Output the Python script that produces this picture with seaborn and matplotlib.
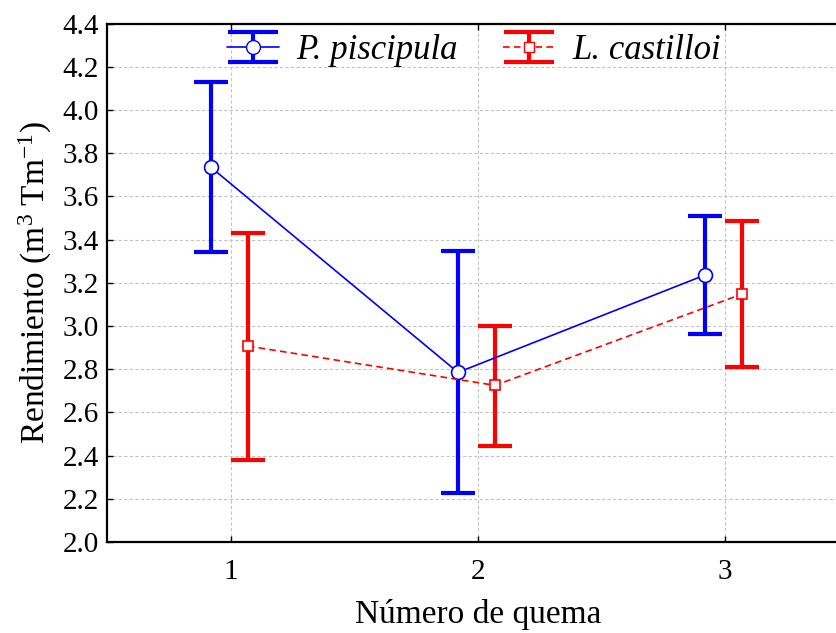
import numpy as np
import pandas as pd
import matplotlib
matplotlib.use('Agg')
import matplotlib.pyplot as plt
import seaborn as sns
from matplotlib.container import ErrorbarContainer
from matplotlib.legend_handler import HandlerTuple, HandlerErrorbar

# Data (means and interval limits)
quema = [1, 2, 3]
especies = ['P. piscipula', 'L. castilloi']
piscipula_media = [3.735, 2.785, 3.236]
piscipula_lo = [3.341, 2.226, 2.961]
piscipula_hi = [4.131, 3.346, 3.510]
castilloi_media = [2.907, 2.725, 3.148]
castilloi_lo = [2.381, 2.445, 2.808]
castilloi_hi = [3.428, 2.998, 3.485]

df = pd.DataFrame({
    'quema': quema * 2,
    'especie': [especies[0]] * 3 + [especies[1]] * 3,
    'media': piscipula_media + castilloi_media,
    'lo': piscipula_lo + castilloi_lo,
    'hi': piscipula_hi + castilloi_hi,
})
offset = {especies[0]: -0.08, especies[1]: 0.07}
df['pos'] = df['quema'] + df['especie'].map(offset)

sns.set_style('ticks')
plt.rcParams['font.family'] = ['Liberation Serif', 'DejaVu Serif']
plt.rcParams['mathtext.fontset'] = 'custom'
plt.rcParams['mathtext.rm'] = 'Liberation Serif'
plt.rcParams['mathtext.it'] = 'Liberation Serif:italic'
plt.rcParams['text.color'] = 'black'
plt.rcParams['axes.labelcolor'] = 'black'
plt.rcParams['xtick.color'] = 'black'
plt.rcParams['ytick.color'] = 'black'
plt.rcParams['axes.edgecolor'] = 'black'

colors = {especies[0]: '#0000ff', especies[1]: '#ff0000'}
markers = {especies[0]: 'o', especies[1]: 's'}
dashes = {especies[0]: '', especies[1]: (4, 2.5)}

fig = plt.figure(figsize=(8.36, 6.33), dpi=100)
ax = fig.add_axes([107 / 836, 91 / 633, 741.5 / 836, 518.5 / 633])

for esp in especies:
    sub = df[df['especie'] == esp]
    ax.errorbar(sub['pos'], sub['media'],
                yerr=[sub['media'] - sub['lo'], sub['hi'] - sub['media']],
                fmt='none', ecolor=colors[esp], elinewidth=3,
                capsize=12, capthick=3, zorder=3)

sns.lineplot(data=df, x='pos', y='media', hue='especie', style='especie',
             palette=colors, markers=markers, dashes=dashes, ax=ax,
             linewidth=1.2, markersize=10, markerfacecolor='white',
             markeredgewidth=1.2, legend=False, zorder=4, sort=False,
             estimator=None)
for line, esp in zip(ax.get_lines()[-2:], especies):
    line.set_markeredgecolor(colors[esp])
    if esp == especies[1]:
        line.set_markersize(7)

ax.set_xlim(0.5, 3.5)
ax.set_ylim(2.0, 4.4)
ax.set_xticks(quema)
ax.set_xticklabels([str(q) for q in quema])
yt = np.arange(2.0, 4.41, 0.2)
ax.set_yticks(yt)
ax.set_yticklabels([f'{v:.1f}' for v in yt])
ax.tick_params(axis='both', direction='in', labelsize=21, length=4,
               width=1, top=True, right=False, pad=6)
ax.tick_params(axis='x', pad=12)
for s in ax.spines.values():
    s.set_linewidth(1.6)
ax.grid(True, color='#c4c4c4', linestyle=(0, (3, 2)), linewidth=0.8)

ax.set_xlabel('Número de quema', fontsize=24, labelpad=10)
ax.set_ylabel(r'Rendimiento (m$^{3}$ Tm$^{\mathrm{-1}}$)', fontsize=24, labelpad=6)

# legend proxies: wide caps like the original key
leg_handles = []
for esp in especies:
    eb = ax.errorbar([np.nan], [np.nan], yerr=[[0], [0]], fmt='none',
                     ecolor=colors[esp], elinewidth=3, capsize=18, capthick=3)
    ln = plt.Line2D([], [], color=colors[esp], marker=markers[esp],
                    markerfacecolor='white', markeredgecolor=colors[esp],
                    markersize=10 if esp == especies[0] else 7,
                    linestyle='-' if esp == especies[0] else (0, (4, 2.5)),
                    linewidth=1.2)
    leg_handles.append((eb, ln))
ax.legend(leg_handles, especies, loc='upper center',
          bbox_to_anchor=(0.495, 1.04), ncol=2, frameon=False,
          prop={'style': 'italic', 'size': 25}, handlelength=1.5,
          columnspacing=1.3, handletextpad=0.5,
          handler_map={tuple: HandlerTuple(ndivide=1),
                       ErrorbarContainer: HandlerErrorbar(xerr_size=0.5, yerr_size=0.44)})

fig.savefig('out.png', dpi=100)
